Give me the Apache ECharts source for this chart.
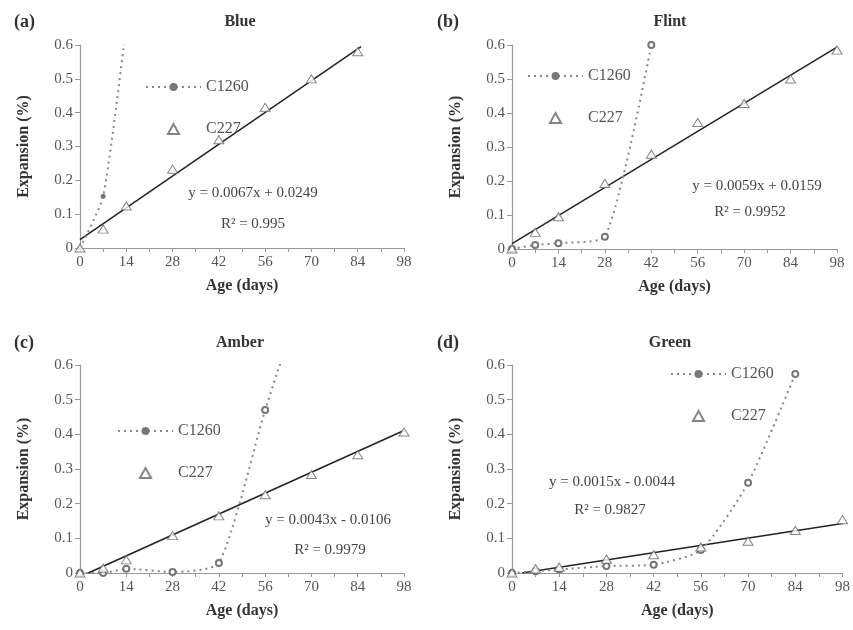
<!DOCTYPE html>
<html>
<head>
<meta charset="utf-8">
<script src="https://cdn.jsdelivr.net/npm/echarts@6/dist/echarts.min.js"></script>
<style>
  html, body { margin: 0; padding: 0; background: #fff; }
  #chart { width: 853px; height: 630px; }
</style>
</head>
<body>
<div id="chart"></div>
<script>
// x / y ticks
const ageTicks = [0, 14, 28, 42, 56, 70, 84, 98];
const expTicks = [0, 0.1, 0.2, 0.3, 0.4, 0.5, 0.6];

// panel titles
const panelTags = ['(a)', '(b)', '(c)', '(d)'];
const panelNames = ['Blue', 'Flint', 'Amber', 'Green'];

// C227 points [age, expansion]
const blueC227 = [[0, 0], [7, 0.056], [14, 0.124], [28, 0.233], [42, 0.32], [56, 0.416], [70, 0.5], [84, 0.58]];
const flintC227 = [[0, 0], [7, 0.049], [14, 0.095], [28, 0.193], [42, 0.279], [56, 0.372], [70, 0.428], [84, 0.5], [98, 0.585]];
const amberC227 = [[0, 0], [7, 0.014], [14, 0.038], [28, 0.108], [42, 0.165], [56, 0.226], [70, 0.284], [84, 0.341], [98, 0.407]];
const greenC227 = [[0, 0], [7, 0.012], [14, 0.017], [28, 0.04], [42, 0.053], [56, 0.075], [70, 0.092], [84, 0.123], [98, 0.154]];

// C1260 points (last point of blue / amber lies above the 0.6 axis top)
const blueC1260 = [[0, 0], [7, 0.153], [14, 0.66]];
const flintC1260 = [[0, 0], [7, 0.012], [14, 0.017], [28, 0.036], [42, 0.6]];
const amberC1260 = [[0, 0], [7, 0], [14, 0.012], [28, 0.003], [42, 0.029], [56, 0.47], [70, 0.88]];
const greenC1260 = [[0, 0], [7, 0.005], [14, 0.01], [28, 0.02], [42, 0.024], [56, 0.066], [70, 0.26], [84, 0.574]];

// linear trend line ends
const blueTrend = [[0, 0.025], [85, 0.595]];
const flintTrend = [[0, 0.016], [98, 0.594]];
const amberTrend = [[2.5, 0], [98, 0.411]];
const greenTrend = [[3, 0], [98, 0.143]];

const equations = ['y = 0.0067x + 0.0249', 'y = 0.0059x + 0.0159', 'y = 0.0043x - 0.0106', 'y = 0.0015x - 0.0044'];
const rSquared = ['R² = 0.995', 'R² = 0.9952', 'R² = 0.9979', 'R² = 0.9827'];

const c227Sets = [blueC227, flintC227, amberC227, greenC227];
const c1260Sets = [blueC1260, flintC1260, amberC1260, greenC1260];
const trendSets = [blueTrend, flintTrend, amberTrend, greenTrend];

const serif = 'Liberation Serif';
const ink = '#333';
const triangle = 'path://M5,0 L10,9 L0,9 Z';

// layout of each panel
const grids = [
  { left: 80, top: 45, width: 324, height: 203 },
  { left: 512, top: 45, width: 325, height: 204 },
  { left: 80, top: 365, width: 324, height: 208 },
  { left: 512, top: 365, width: 331, height: 208 }
];
const legendPos = [
  { left: 140, top: 74 },
  { left: 522, top: 63 },
  { left: 112, top: 418 },
  { left: 665, top: 361 }
];
const eqPos = [
  { x: 253, y: 193, rx: 253, ry: 224 },
  { x: 757, y: 186, rx: 750, ry: 212 },
  { x: 328, y: 520, rx: 330, ry: 550 },
  { x: 612, y: 482, rx: 610, ry: 510 }
];

const chart = echarts.init(document.getElementById('chart'));

const xAxes = [], yAxes = [], series = [], legends = [], graphics = [];

grids.forEach(function (g, i) {
  xAxes.push({
    gridIndex: i, type: 'value', min: 0, max: 98, interval: 14,
    name: 'Age (days)', nameLocation: 'middle', nameGap: 30,
    nameTextStyle: { fontFamily: serif, fontSize: 16, fontWeight: 'bold', color: ink },
    axisLine: { onZero: false, lineStyle: { color: '#999', width: 1.2 } },
    axisTick: { length: 4, lineStyle: { color: '#999' } },
    minorTick: { show: true, splitNumber: 2, length: 4, lineStyle: { color: '#999' } },
    axisLabel: { fontFamily: serif, fontSize: 15, color: '#555', margin: 7 },
    splitLine: { show: false }
  });
  yAxes.push({
    gridIndex: i, type: 'value', min: 0, max: 0.6, interval: 0.1,
    name: 'Expansion (%)', nameLocation: 'middle', nameGap: 48,
    nameTextStyle: { fontFamily: serif, fontSize: 16, fontWeight: 'bold', color: ink },
    axisLine: { show: true, lineStyle: { color: '#999', width: 1.2 } },
    axisTick: { show: true, length: 5, lineStyle: { color: '#999' } },
    axisLabel: { fontFamily: serif, fontSize: 15, color: '#555', margin: 7 },
    splitLine: { show: false }
  });

  series.push({
    name: 'C1260', type: 'line', xAxisIndex: i, yAxisIndex: i,
    data: c1260Sets[i], smooth: 0.2, clip: true,
    symbol: i === 0 ? 'circle' : 'emptyCircle', symbolSize: i === 0 ? 5 : 6,
    itemStyle: { color: '#777', borderWidth: 1 },
    lineStyle: { color: '#888', width: 2, type: [2, 4] },
    z: 3
  });
  series.push({
    name: 'C227', type: 'scatter', xAxisIndex: i, yAxisIndex: i,
    data: c227Sets[i], symbol: triangle, symbolKeepAspect: true, symbolSize: [10, 9],
    itemStyle: { color: '#fff', borderColor: '#666', borderWidth: 1 },
    z: 4
  });
  series.push({
    name: 'trend' + i, type: 'line', xAxisIndex: i, yAxisIndex: i,
    data: trendSets[i], symbol: 'none',
    lineStyle: { color: '#222', width: 1.5 },
    z: 2
  });

  legends.push({
    data: ['C1260', 'C227'], orient: 'vertical',
    left: legendPos[i].left, top: legendPos[i].top,
    itemWidth: 55, itemHeight: 10, itemGap: 26,
    textStyle: { fontFamily: serif, fontSize: 16, color: '#555' },
    selectedMode: false
  });

  const p = eqPos[i];
  graphics.push({
    type: 'text', x: p.x, y: p.y,
    style: { text: equations[i], fontFamily: serif, fontSize: 15, fill: '#444', align: 'center', verticalAlign: 'middle' }
  });
  graphics.push({
    type: 'text', x: p.rx, y: p.ry,
    style: { text: rSquared[i], fontFamily: serif, fontSize: 15, fill: '#444', align: 'center', verticalAlign: 'middle' }
  });
  // panel tag and title
  const col = i % 2, row = Math.floor(i / 2);
  graphics.push({
    type: 'text', x: col === 0 ? 14 : 437, y: row === 0 ? 22 : 343,
    style: { text: panelTags[i], fontFamily: serif, fontSize: 18, fontWeight: 'bold', fill: ink, verticalAlign: 'middle' }
  });
  graphics.push({
    type: 'text', x: col === 0 ? 240 : 670, y: row === 0 ? 22 : 343,
    style: { text: panelNames[i], fontFamily: serif, fontSize: 16, fontWeight: 'bold', fill: ink, align: 'center', verticalAlign: 'middle' }
  });
});

chart.setOption({
  backgroundColor: '#fff',
  animation: false,
  grid: grids,
  xAxis: xAxes,
  yAxis: yAxes,
  legend: legends,
  series: series,
  graphic: graphics
});
</script>
</body>
</html>
